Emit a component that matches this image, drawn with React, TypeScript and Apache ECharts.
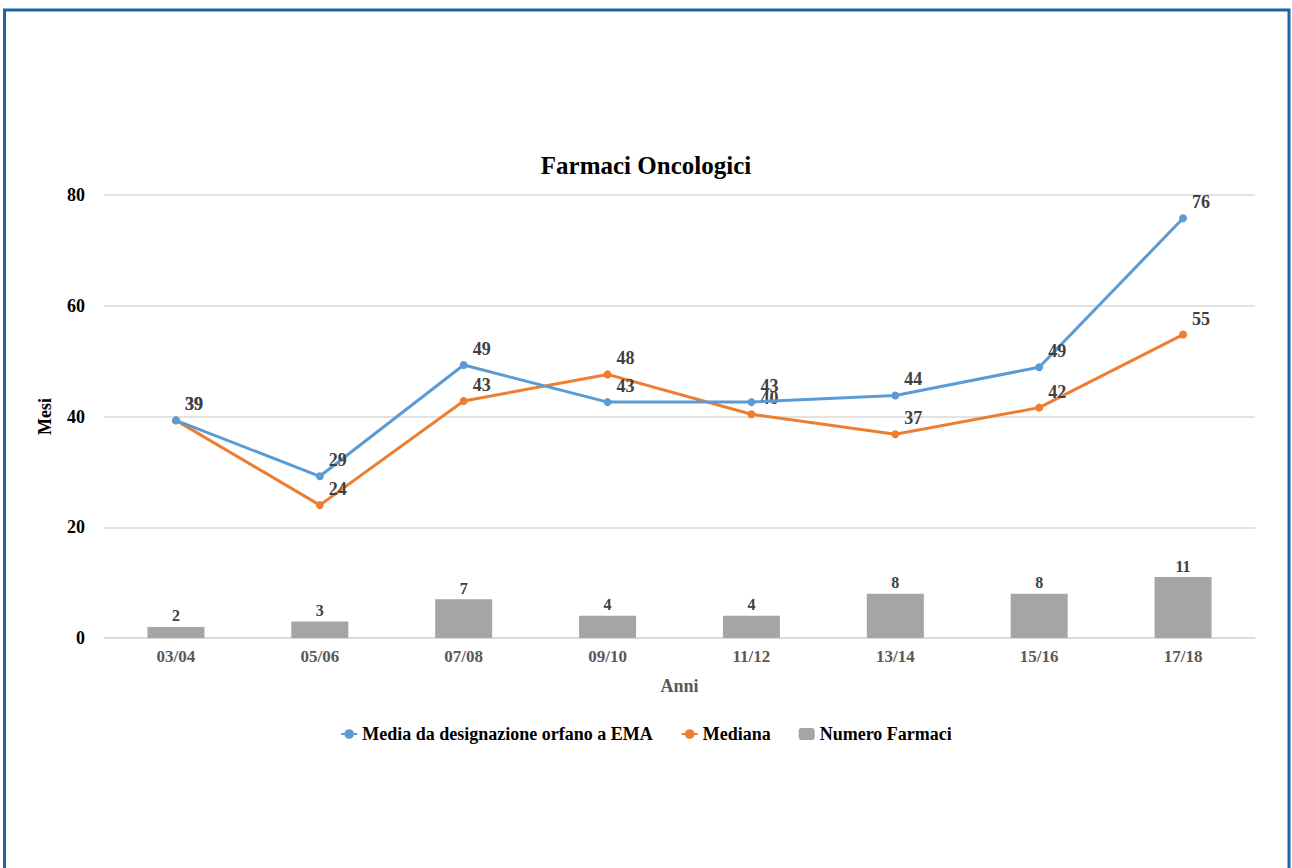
import React, { useEffect, useRef } from "react";
import * as echarts from "echarts";

const categories = ["03/04", "05/06", "07/08", "09/10", "11/12", "13/14", "15/16", "17/18"];
const mediaValues = [39.3, 29.2, 49.3, 42.6, 42.6, 43.8, 48.9, 75.8];
const medianaValues = [39.3, 24.0, 42.8, 47.6, 40.4, 36.8, 41.6, 54.8];
const numeroFarmaci = [2, 3, 7, 4, 4, 8, 8, 11];
const yMin = 0;
const yMax = 80;
const yStep = 20;

const FONT = "'Liberation Serif', 'Times New Roman', serif";

export default function App() {
  const ref = useRef<HTMLDivElement>(null);

  useEffect(() => {
    document.body.style.margin = "0";
    if (!ref.current) return;
    const chart = echarts.init(ref.current, undefined, { renderer: "svg" });
    const lineLabel = {
      show: true,
      position: "top",
      distance: 3,
      offset: [18, 0],
      fontFamily: FONT,
      fontWeight: "bold",
      fontSize: 18,
      color: "#404040",
      formatter: (p: any) => String(Math.round(p.value)),
    };
    chart.setOption({
      animation: false,
      backgroundColor: "#ffffff",
      textStyle: { fontFamily: FONT },
      title: {
        text: "Farmaci Oncologici",
        left: "center",
        top: 148,
        textStyle: { fontFamily: FONT, fontWeight: "bold", fontSize: 25, color: "#000000" },
      },
      graphic: [
        {
          type: "polyline",
          shape: { points: [[4.5, 900], [4.5, 10], [1289, 10], [1289, 900]] },
          style: { stroke: "#1f62a5", lineWidth: 3, fill: "none" },
          silent: true,
        },
      ],
      legend: {
        top: 720,
        left: "center",
        itemGap: 28,
        itemWidth: 16,
        itemHeight: 12,
        textStyle: { fontFamily: FONT, fontWeight: "bold", fontSize: 18, color: "#000000" },
        data: ["Media da designazione orfano a EMA", "Mediana", "Numero Farmaci"],
      },
      grid: { left: 104, right: 37, top: 195, bottom: 230, containLabel: false },
      xAxis: {
        type: "category",
        data: categories,
        name: "Anni",
        nameLocation: "middle",
        nameGap: 39,
        nameTextStyle: { fontFamily: FONT, fontWeight: "bold", fontSize: 18, color: "#595959" },
        axisLine: { lineStyle: { color: "#d9d9d9", width: 1.5 } },
        axisTick: { show: false },
        axisLabel: { fontFamily: FONT, fontWeight: "bold", fontSize: 17, color: "#595959", margin: 10 },
      },
      yAxis: {
        type: "value",
        min: yMin,
        max: yMax,
        interval: yStep,
        name: "Mesi",
        nameLocation: "middle",
        nameGap: 50,
        nameTextStyle: { fontFamily: FONT, fontWeight: "bold", fontSize: 18, color: "#000000" },
        axisLine: { show: false },
        axisTick: { show: false },
        splitLine: { lineStyle: { color: "#d9d9d9", width: 1.5 } },
        axisLabel: { fontFamily: FONT, fontWeight: "bold", fontSize: 18, color: "#000000", margin: 19 },
      },
      series: [
        {
          name: "Media da designazione orfano a EMA",
          type: "line",
          data: mediaValues,
          symbol: "circle",
          symbolSize: 8,
          itemStyle: { color: "#5b9bd5" },
          lineStyle: { color: "#5b9bd5", width: 3 },
          label: lineLabel,
          z: 4,
        },
        {
          name: "Mediana",
          type: "line",
          data: medianaValues,
          symbol: "circle",
          symbolSize: 8,
          itemStyle: { color: "#ed7d31" },
          lineStyle: { color: "#ed7d31", width: 3 },
          label: lineLabel,
          z: 3,
        },
        {
          name: "Numero Farmaci",
          type: "bar",
          data: numeroFarmaci,
          barWidth: 57,
          itemStyle: { color: "#a5a5a5" },
          label: {
            show: true,
            position: "top",
            distance: 3,
            fontFamily: FONT,
            fontWeight: "bold",
            fontSize: 16,
            color: "#404040",
          },
          z: 2,
        },
      ],
    });
    return () => chart.dispose();
  }, []);

  return (
    <div
      ref={ref}
      style={{ position: "absolute", left: 0, top: 0, width: 1292, height: 868 }}
    />
  );
}
